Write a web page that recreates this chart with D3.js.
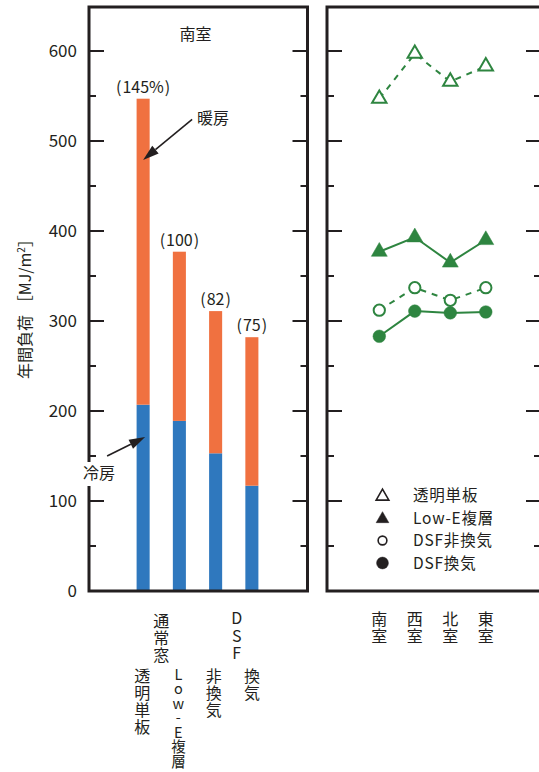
<!DOCTYPE html>
<html>
<head>
<meta charset="utf-8">
<script src="https://cdn.jsdelivr.net/npm/d3@7"></script>
<style>
  html, body { margin: 0; padding: 0; background: #fff; }
  svg { display: block; }
  text { font-family: "Noto Sans CJK JP", "Noto Sans", sans-serif; fill: #231f20; }
  .vt { writing-mode: vertical-rl; text-orientation: upright; }
</style>
</head>
<body>
<svg id="chart" width="539" height="772"></svg>
<script>
// ---------- data ----------
const categories = ["透明単板", "Low-E複層", "DSF非換気", "DSF換気"];
const cooling = [207, 189, 153, 117];
const heating = [340, 188, 158, 165];
const barLabels = ["(\u200A145%\u200A)", "(\u200A100\u200A)", "(\u200A82\u200A)", "(\u200A75\u200A)"];
const rooms = ["南室", "西室", "北室", "東室"];
const seriesTransparent = [547, 597, 566, 583];
const seriesLowE = [377, 393, 365, 390];
const seriesDSFclosed = [312, 337, 323, 337];
const seriesDSFvent = [283, 311, 309, 310];
const yTickValues = [0, 100, 200, 300, 400, 500, 600];
const yMinorValues = [50, 150, 250, 350, 450, 550];

// ---------- setup ----------
const svg = d3.select("#chart");
const ink = "#231f20";
const green = "#2e8540";
const orange = "#f07140";
const blue = "#2f78be";

const y = d3.scaleLinear().domain([0, 650]).range([591, 6]);
const leftPanel = { x0: 89, x1: 307.5 };
const rightPanel = { x0: 327, x1: 541 };
const panelTop = 7, panelBottom = 591;

const xBar = d3.scaleBand().domain(categories).range([125, 270]).paddingInner(0.64).paddingOuter(0.32);
const xRoom = d3.scalePoint().domain(rooms).range([379.3, 485.8]);

// ---------- ticks ----------
function ticks(panel, withLabels) {
  const g = svg.append("g");
  const drawSide = (x, dir) => {
    g.selectAll(null).data(yTickValues).enter().append("line")
      .attr("x1", x).attr("x2", x + dir * 15)
      .attr("y1", d => y(d)).attr("y2", d => y(d))
      .attr("stroke", ink).attr("stroke-width", 2);
    g.selectAll(null).data(yMinorValues).enter().append("line")
      .attr("x1", x).attr("x2", x + dir * 7)
      .attr("y1", d => y(d)).attr("y2", d => y(d))
      .attr("stroke", ink).attr("stroke-width", 2);
  };
  drawSide(panel.x0, 1);
  drawSide(panel.x1, -1);
  if (withLabels) {
    g.selectAll(null).data(yTickValues).enter().append("text")
      .attr("x", 77).attr("y", d => y(d))
      .attr("dy", "0.35em")
      .attr("text-anchor", "end")
      .attr("font-size", 17)
      .text(d => d);
  }
}
ticks(leftPanel, true);
ticks(rightPanel, false);

// ---------- bars ----------
const stackData = categories.map((c, i) => ({ cat: c, cool: cooling[i], heat: heating[i] }));
const gBars = svg.append("g");
gBars.selectAll(".cool").data(stackData).enter().append("rect")
  .attr("x", d => xBar(d.cat)).attr("width", xBar.bandwidth())
  .attr("y", d => y(d.cool)).attr("height", d => y(0) - y(d.cool))
  .attr("fill", blue);
gBars.selectAll(".heat").data(stackData).enter().append("rect")
  .attr("x", d => xBar(d.cat)).attr("width", xBar.bandwidth())
  .attr("y", d => y(d.cool + d.heat)).attr("height", d => y(d.cool) - y(d.cool + d.heat))
  .attr("fill", orange);
gBars.selectAll(".lbl").data(stackData).enter().append("text")
  .attr("x", d => xBar(d.cat) + xBar.bandwidth() / 2)
  .attr("y", d => y(d.cool + d.heat) - 6)
  .attr("text-anchor", "middle")
  .attr("font-size", 16)
  .text((d, i) => barLabels[i]);

// title
svg.append("text").attr("x", 195.5).attr("y", 40).attr("text-anchor", "middle")
  .attr("font-size", 16).text("南室");

// ---------- arrows ----------
function arrow(x1, y1, x2, y2) {
  const g = svg.append("g");
  const ang = Math.atan2(y2 - y1, x2 - x1);
  const L = 16, W = 5;
  const bx = x2 - L * Math.cos(ang), by = y2 - L * Math.sin(ang);
  g.append("line").attr("x1", x1).attr("y1", y1).attr("x2", bx).attr("y2", by)
    .attr("stroke", ink).attr("stroke-width", 1.6);
  const px = -Math.sin(ang) * W, py = Math.cos(ang) * W;
  g.append("path").attr("d", `M${x2},${y2}L${bx + px},${by + py}L${bx - px},${by - py}Z`).attr("fill", ink);
}
const bar0c = xBar(categories[0]) + xBar.bandwidth() / 2;
arrow(bar0c + 49, y(524), bar0c, y(479));
svg.append("text").attr("x", 197).attr("y", 124).attr("font-size", 16).text("暖房");
arrow(bar0c - 36, y(150), bar0c + 2, y(171));

// ---------- y-axis title ----------
svg.append("text")
  .attr("transform", "translate(31,305) rotate(-90)")
  .attr("text-anchor", "middle")
  .attr("font-size", 16)
  .html('年間負荷 ［MJ/m<tspan font-size="10" dy="-6">2</tspan><tspan dy="6">］</tspan>');

// ---------- vertical labels ----------
function vtext(str, x, topY, fs, spacing) {
  svg.append("text").attr("class", "vt")
    .attr("x", x).attr("y", topY)
    .attr("font-size", fs)
    .style("letter-spacing", (spacing || 0) + "px")
    .text(str);
}
const bc = i => xBar(categories[i]) + xBar.bandwidth() / 2;
vtext("通常窓", (bc(0) + bc(1)) / 2, 613, 16, 1);
vtext("DSF", (bc(2) + bc(3)) / 2 + 3, 610, 16, 1.5);
vtext("透明単板", bc(0) - 1, 668, 16, 1);
vtext("Low-E複層", bc(1) - 1, 667, 14.5, 0);
vtext("非換気", bc(2) - 2, 668, 16, 1);
vtext("換気", bc(3), 668, 16, 1);

// room labels
rooms.forEach(r => vtext(r, xRoom(r), 611, 16, 0.5));

// ---------- right panel series ----------
const series = [
  { name: categories[0], values: seriesTransparent, sym: d3.symbolTriangle, filled: false, dash: "6,6" },
  { name: categories[1], values: seriesLowE, sym: d3.symbolTriangle, filled: true, dash: null },
  { name: categories[2], values: seriesDSFclosed, sym: d3.symbolCircle, filled: false, dash: "6,6" },
  { name: categories[3], values: seriesDSFvent, sym: d3.symbolCircle, filled: true, dash: null }
];
const line = d3.line().x((d, i) => xRoom(rooms[i])).y(d => y(d));
const gS = svg.append("g");
series.forEach(s => {
  gS.append("path").attr("d", line(s.values)).attr("fill", "none")
    .attr("stroke", green).attr("stroke-width", 2)
    .attr("stroke-dasharray", s.dash);
});
series.forEach(s => {
  const size = s.sym === d3.symbolTriangle ? (s.filled ? 110 : 90) : (s.filled ? 125 : 100);
  gS.selectAll(null).data(s.values).enter().append("path")
    .attr("transform", (d, i) => `translate(${xRoom(rooms[i])},${y(d)})`)
    .attr("d", d3.symbol(s.sym, size))
    .attr("fill", s.filled ? green : "#fff")
    .attr("stroke", green).attr("stroke-width", s.filled ? 0.5 : 2);
});

// ---------- legend ----------
const legendY = [495.5, 518, 540.5, 563];
const gL = svg.append("g");
series.forEach((s, i) => {
  const size = s.sym === d3.symbolTriangle ? 70 : (s.filled ? 110 : 60);
  gL.append("path").attr("transform", `translate(382.5,${legendY[i] + (s.sym === d3.symbolTriangle ? 1 : 0)})`)
    .attr("d", d3.symbol(s.sym, size))
    .attr("fill", s.filled ? ink : "#fff")
    .attr("stroke", ink).attr("stroke-width", s.filled ? 0.5 : 1.6);
  gL.append("text").attr("x", 413).attr("y", legendY[i] + 5.5)
    .attr("font-size", 15.5).style("letter-spacing", "0.8px").text(s.name);
});

// ---------- panel borders ----------
[leftPanel, rightPanel].forEach(p => {
  svg.append("rect").attr("x", p.x0).attr("y", panelTop).attr("width", p.x1 - p.x0).attr("height", panelBottom - panelTop)
    .attr("fill", "none").attr("stroke", ink).attr("stroke-width", 3);
});
// 冷房 label with white knock-out over the axis
svg.append("rect").attr("x", 82).attr("y", 462).attr("width", 36).attr("height", 24).attr("fill", "#fff");
svg.append("text").attr("x", 83).attr("y", 479).attr("font-size", 16).text("冷房");
</script>
</body>
</html>
